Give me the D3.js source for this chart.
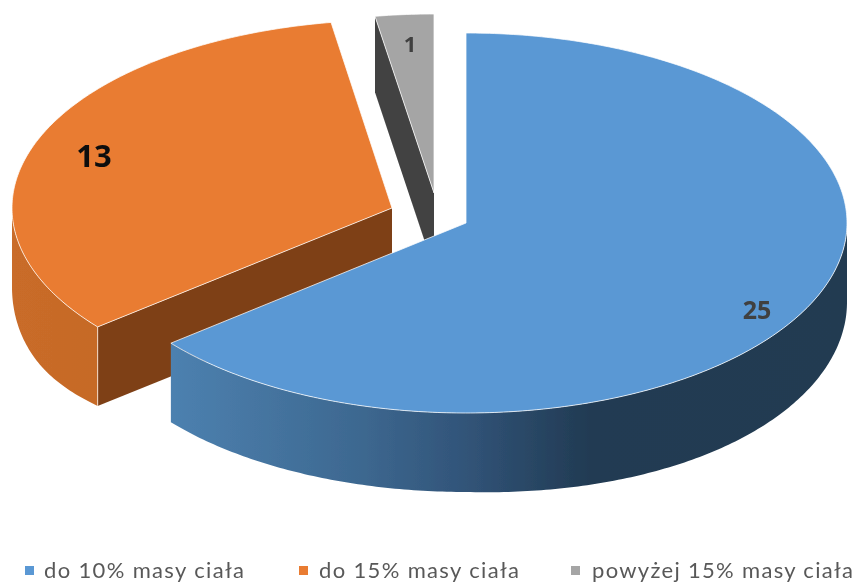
<!DOCTYPE html>
<html><head><meta charset="utf-8">
<script src="https://cdn.jsdelivr.net/npm/d3@7"></script>
<style>html,body{margin:0;padding:0;background:#fff}svg{display:block}</style>
</head><body><svg id="c" width="857" height="584"></svg>
<script>
const categories = ["do 10% masy ciała", "do 15% masy ciała", "powyżej 15% masy ciała"];
const values = [25, 13, 1];
const topColors = ["#5a98d4", "#e97c30", "#a5a5a5"];
const faceColors = ["#233b51", "#7e4118", "#424242"];

// layout of each exploded slice (not data)
const geom = [
  {cx:466, cy:223, rx:381, ry:190, d:79, sag:5, sagFrom:90, sagTo:180},
  {cx:392, cy:208, rx:380, ry:188, d:79, sag:7, sagFrom:230.77, sagTo:270},
  {cx:434, cy:193, rx:368, ry:179, d:76, sag:0, sagFrom:90, sagTo:180}
];
const labelPos = [[757,310,25,"#404040"],[94,156,31,"#111111"],[410,44,22,"#404040"]];
const legendPos = [[25,44],[299,319],[571,592]];
const legendWidth = [200,200,261];

const svg = d3.select("#c");
const defs = svg.append("defs");
defs.append("filter").attr("id","soft").attr("x","-5%").attr("y","-5%").attr("width","110%").attr("height","110%")
  .append("feGaussianBlur").attr("stdDeviation",0.6);

const blueGrad = defs.append("linearGradient").attr("id","wall0").attr("gradientUnits","userSpaceOnUse")
  .attr("x1",168).attr("x2",847).attr("y1",0).attr("y2",0);
[[0,"#4d81b0"],[0.283,"#3d6890"],[0.43,"#32557a"],[0.626,"#213a52"],[1,"#223b51"]]
  .forEach(s=>blueGrad.append("stop").attr("offset",s[0]).attr("stop-color",s[1]));
const orGrad = defs.append("linearGradient").attr("id","wall1").attr("gradientUnits","userSpaceOnUse")
  .attr("x1",12).attr("x2",97).attr("y1",0).attr("y2",0);
[[0,"#c96c29"],[1,"#c66a27"]].forEach(s=>orGrad.append("stop").attr("offset",s[0]).attr("stop-color",s[1]));

const arcs = d3.pie().sort(null).value(d=>d)(values);
const line = d3.line();
const rad = Math.PI/180;
const pt = (g,a,dz=0)=>[g.cx+g.rx*Math.sin(a), g.cy-g.ry*Math.cos(a)+dz];
const sample = (a0,a1)=>{const n=Math.max(2,Math.ceil(Math.abs(a1-a0)*80));return d3.range(n+1).map(i=>a0+(a1-a0)*i/n);};
const sagAt = (g,a)=>{const t=(a/rad-g.sagFrom)/(g.sagTo-g.sagFrom);return t>0&&t<1?g.sag*Math.sin(Math.PI*t):0;};

const chart = svg.append("g").attr("filter","url(#soft)");
// paint back to front
[2,1,0].forEach(i=>{
  const a = arcs[i], g = geom[i], G = chart.append("g");
  // cut face at the start of the slice
  if(i>0){
    const p=pt(g,a.startAngle);
    G.append("path").attr("fill",faceColors[i]).attr("d",line([[g.cx,g.cy],p,[p[0],p[1]+g.d],[g.cx,g.cy+g.d]])+"Z");
  }
  // outer wall: the part of the rim facing the viewer
  const w0=Math.max(a.startAngle,Math.PI/2), w1=Math.min(a.endAngle,3*Math.PI/2);
  if(w1>w0){
    const s=sample(w0,w1);
    const pts=s.map(t=>pt(g,t)).concat(s.slice().reverse().map(t=>pt(g,t,g.d+sagAt(g,t))));
    G.append("path").attr("fill",`url(#wall${i})`).attr("d",line(pts)+"Z");
  }
  if(i===1){
    const p=pt(g,a.startAngle);
    G.append("path").attr("stroke","#f3d9c6").attr("stroke-width",1).attr("d",line([p,[p[0],p[1]+g.d]]));
  }
  // top surface
  const top=[[g.cx,g.cy]].concat(sample(a.startAngle,a.endAngle).map(t=>pt(g,t)));
  G.append("path").attr("fill",topColors[i]).attr("stroke","#fff").attr("stroke-opacity",.75).attr("stroke-width",1)
    .attr("stroke-linejoin","round").attr("d",line(top)+"Z");
});

const texts = svg.append("g").attr("filter","url(#soft)");
texts.selectAll("text.val").data(values).join("text").attr("class","val")
  .attr("x",(d,i)=>labelPos[i][0]).attr("y",(d,i)=>labelPos[i][1])
  .attr("dy","0.35em").attr("text-anchor","middle")
  .attr("font-family","'Open Sans',Lato,sans-serif").attr("font-weight",700)
  .attr("font-size",(d,i)=>labelPos[i][2]).attr("fill",(d,i)=>labelPos[i][3])
  .text(d=>d);

const leg = texts.selectAll("g.leg").data(categories).join("g").attr("class","leg");
leg.append("rect").attr("x",(d,i)=>legendPos[i][0]).attr("y",566).attr("width",9).attr("height",9)
  .attr("fill",(d,i)=>topColors[i]);
leg.append("text").attr("x",(d,i)=>legendPos[i][1]).attr("y",578)
  .attr("font-family","Lato,'Open Sans',sans-serif").attr("font-size",22).attr("fill","#595959")
  .attr("textLength",(d,i)=>legendWidth[i]).attr("lengthAdjust","spacing")
  .text(d=>d);
</script></body></html>
